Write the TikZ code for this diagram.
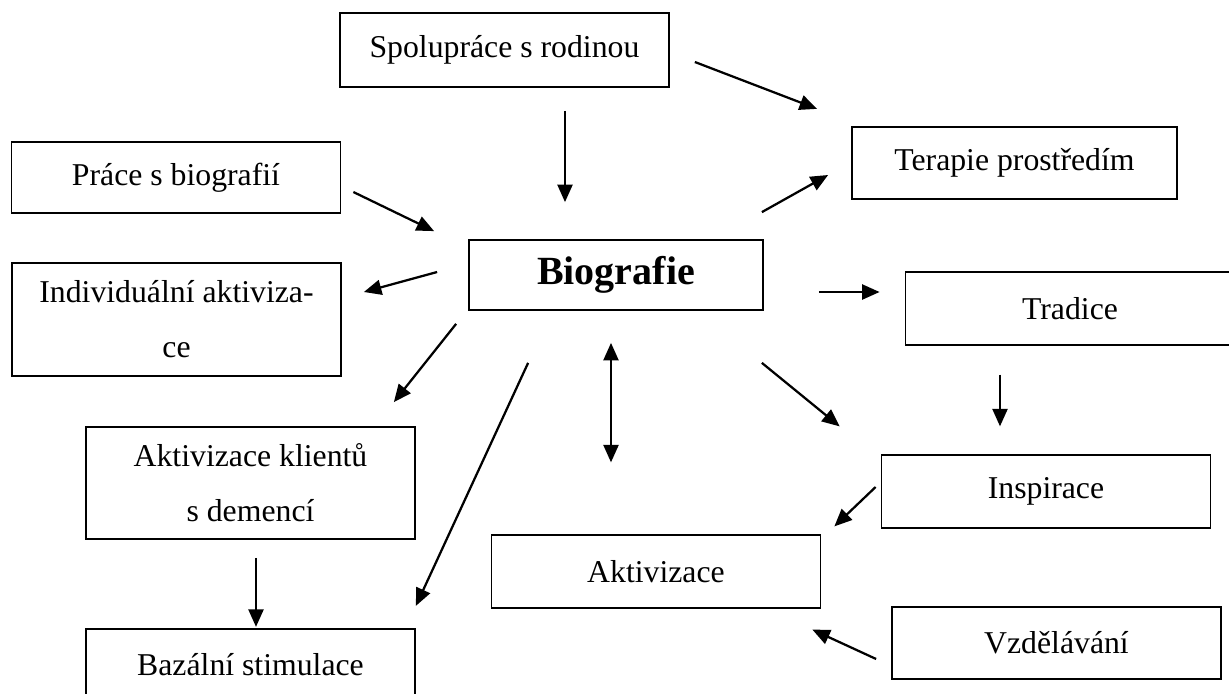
\documentclass[tikz,border=0pt]{standalone}
\usepackage{fontspec}
\setmainfont{Liberation Serif}
\usetikzlibrary{arrows.meta}
\tikzset{
    box/.style={draw, line width=0.7pt, inner sep=0pt, minimum width=131.6pt,
        minimum height=29pt, align=center, font=\fontsize{12.7}{22}\selectfont},
    tallbox/.style={box, minimum height=45pt},
    arr/.style={line width=0.9pt, -{Triangle[length=7pt,width=6pt]}},
    dblarr/.style={line width=0.9pt, {Triangle[length=7pt,width=6pt]}-{Triangle[length=7pt,width=6pt]}},
}
\begin{document}
\begin{tikzpicture}[x=0.4pt, y=-0.4pt]
    \useasboundingbox (0,0) rectangle (1229,694);
    % boxes
    \node[box, minimum height=29.6pt] (spol) at (504.5,50) {Spolupráce s rodinou};
    \node[box, minimum width=130pt] (ter) at (1014.5,163) {Terapie prostředím};
    \node[box, minimum height=28.4pt] (prace) at (176,177.5) {Práce s biografií};
    \node[box, minimum width=117.6pt, minimum height=28pt,
        font=\fontsize{16}{19}\selectfont\bfseries] (bio) at (616,275) {Biografie};
    \node[tallbox] (indiv) at (176.5,319.5) {Individuální aktiviza-\\ce};
    \node[box] (tradice) at (1070,308.5) {Tradice};
    \node[tallbox, minimum height=44.8pt] (klienti) at (250.5,483) {Aktivizace klientů\\s demencí};
    \node[box] (insp) at (1046,491.5) {Inspirace};
    \node[box] (aktiv) at (656,571.5) {Aktivizace};
    \node[box] (vzdel) at (1056.5,643) {Vzdělávání};
    \node[box] (bazal) at (250.5,665) {Bazální stimulace};
    % arrows
    \draw[arr] ([shift={(25,12)}]spol.east) -- ([shift={(-34,-17)}]ter.north west);
    \draw[arr] ([shift={(60.5,23)}]spol.south) -- ([shift={(-51,-37)}]bio.north);
    \draw[arr] ([shift={(12,14.5)}]prace.east) -- ([shift={(-34,-8)}]bio.north west);
    \draw[arr] ([shift={(-2,-27)}]bio.north east) -- ([shift={(-23,12)}]ter.west);
    \draw[arr] ([shift={(-31,-3)}]bio.west) -- ([shift={(22,-27.5)}]indiv.east);
    \draw[arr] ([shift={(55,17)}]bio.east) -- ([shift={(-25,-16.5)}]tradice.west);
    \draw[arr] ([shift={(-70,29)}]tradice.south) -- ([shift={(-46,-28)}]insp.north);
    \draw[arr] ([shift={(-12,13)}]bio.south west) -- ([shift={(-22,-24)}]klienti.north east);
    \draw[arr] ([shift={(60,52)}]bio.south west) -- ([shift={(0,-22)}]bazal.north east);
    \draw[dblarr] ([shift={(-5,32)}]bio.south) -- ([shift={(-45,-72)}]aktiv.north);
    \draw[arr] ([shift={(-2,52)}]bio.south east) -- ([shift={(-41,-28)}]insp.north west);
    \draw[arr] ([shift={(-5,-4.5)}]insp.west) -- ([shift={(13,-8)}]aktiv.north east);
    \draw[arr] ([shift={(-15,16)}]vzdel.west) -- ([shift={(-9,21)}]aktiv.south east);
    \draw[arr] ([shift={(5.5,18)}]klienti.south) -- ([shift={(5.5,-1)}]bazal.north);
\end{tikzpicture}
\end{document}
